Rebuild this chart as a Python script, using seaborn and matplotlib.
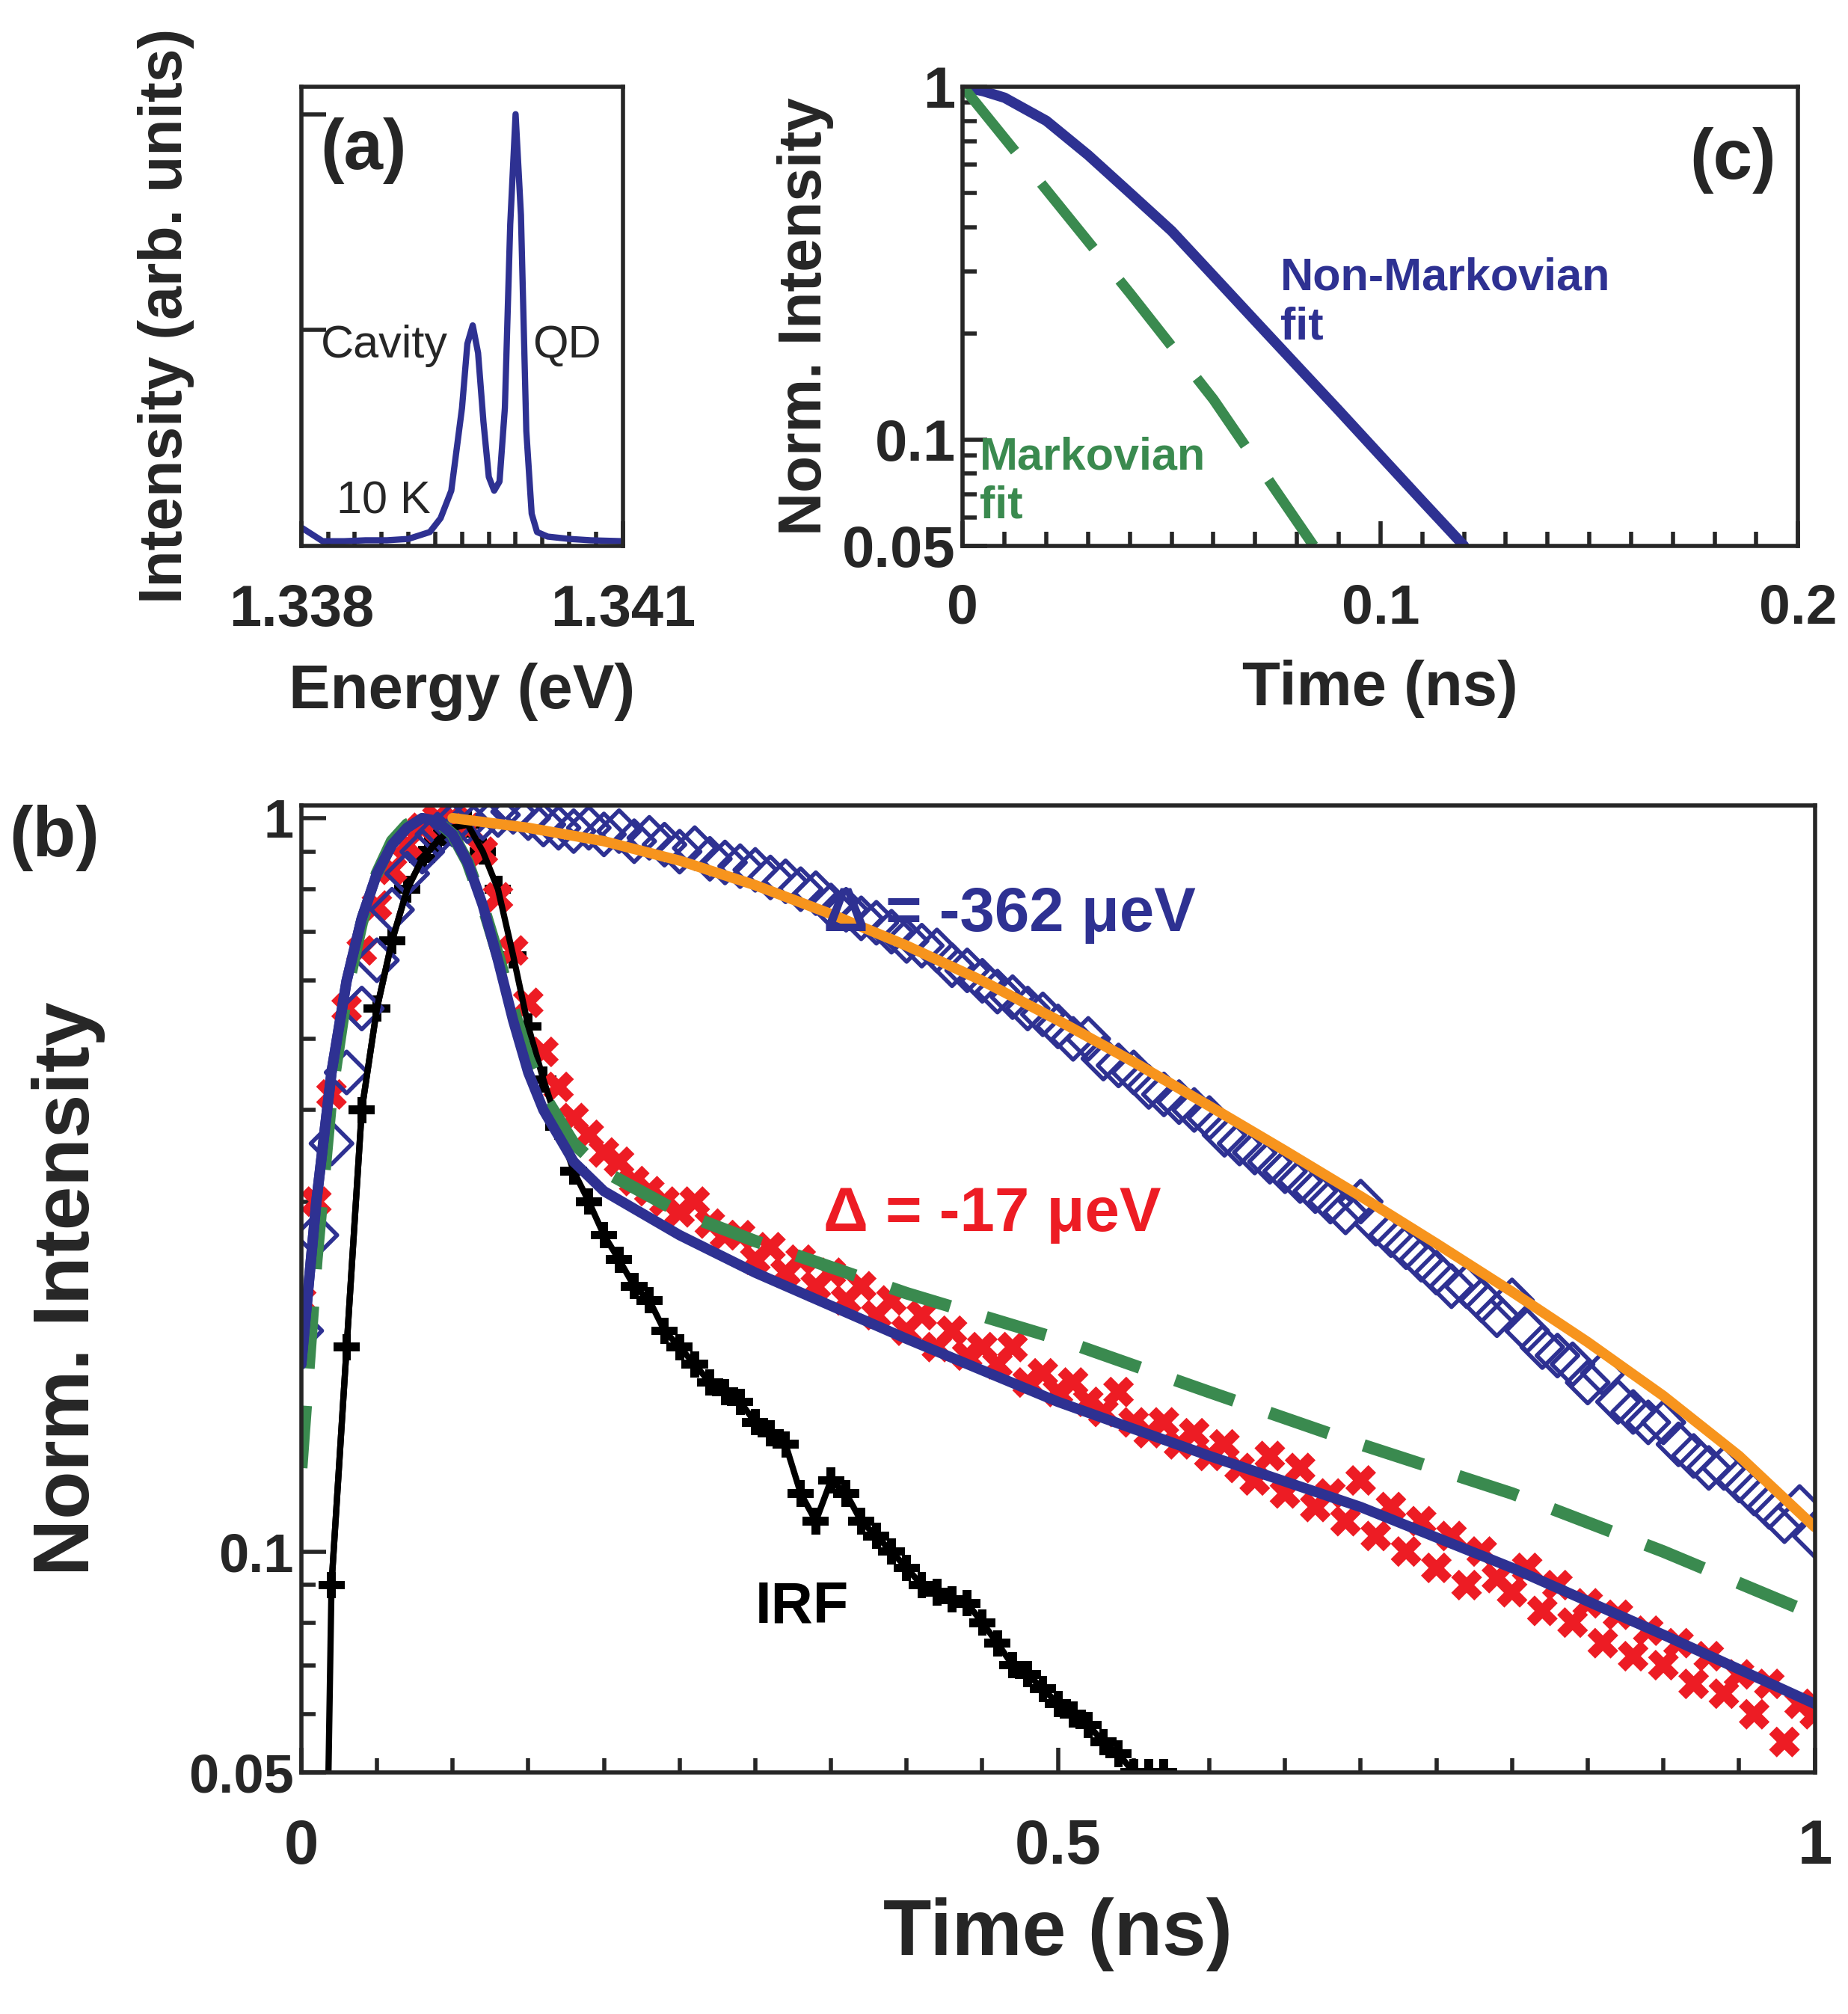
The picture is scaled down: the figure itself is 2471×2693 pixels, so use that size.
import numpy as np
import pandas as pd
import matplotlib
matplotlib.use("Agg")
import matplotlib.pyplot as plt
import seaborn as sns
from matplotlib.ticker import FixedLocator, NullFormatter, MultipleLocator

sns.set_style("ticks")
plt.rcParams['font.family'] = ['Liberation Sans', 'DejaVu Sans']
plt.rcParams['font.weight'] = 'bold'

# ---------- panel (a) spectrum ----------
energy_a = [1.3380, 1.3382, 1.3384, 1.3386, 1.3388, 1.3390, 1.3392, 1.3393, 1.3394, 1.3395, 1.33955,
            1.3396, 1.33965, 1.3397, 1.33975, 1.3398, 1.33985, 1.3399, 1.33995, 1.3400, 1.34005,
            1.3401, 1.34015, 1.3402, 1.3403, 1.3405, 1.3407, 1.3410]
inten_a = [0.04, 0.01, 0.01, 0.012, 0.012, 0.015, 0.03, 0.06, 0.12, 0.30, 0.44, 0.48, 0.42,
           0.27, 0.15, 0.12, 0.14, 0.30, 0.70, 0.94, 0.72, 0.25, 0.07, 0.03, 0.02, 0.015, 0.012, 0.01]

# ---------- panel (c) ----------
t_c = [0.0, 0.005, 0.01, 0.02, 0.03, 0.04, 0.05, 0.06, 0.07, 0.08, 0.09, 0.10, 0.11, 0.12]
nonmark_c = [1.0, 0.97, 0.93, 0.8, 0.64, 0.5, 0.39, 0.291, 0.217, 0.162, 0.121, 0.090, 0.067, 0.05]
t_cm = [0.0, 0.02, 0.04, 0.06, 0.084]
mark_c = [1.0, 0.51, 0.26, 0.13, 0.05]

# ---------- panel (b) ----------
t_d362 = np.round(np.arange(0, 1.001, 0.01), 3)
d362 = [0.20, 0.27, 0.36, 0.45, 0.55, 0.64, 0.75, 0.84, 0.90, 0.95, 0.98, 0.99, 1.00, 1.01, 1.02, 1.00,
        0.98, 0.97, 0.96, 0.97, 0.95, 0.96, 0.93, 0.94, 0.92, 0.90, 0.91, 0.88, 0.87, 0.86, 0.85,
        0.83, 0.82, 0.80, 0.79, 0.76, 0.75, 0.73, 0.72, 0.70, 0.68, 0.67, 0.66, 0.63, 0.62, 0.60,
        0.58, 0.57, 0.55, 0.54, 0.52, 0.50, 0.50, 0.47, 0.46, 0.45, 0.43, 0.42, 0.41, 0.40, 0.39,
        0.37, 0.36, 0.35, 0.34, 0.33, 0.32, 0.31, 0.30, 0.29, 0.30, 0.28, 0.27, 0.26, 0.25, 0.24,
        0.23, 0.23, 0.22, 0.21, 0.22, 0.20, 0.19, 0.185, 0.18, 0.17, 0.175, 0.16, 0.155, 0.15, 0.15,
        0.14, 0.135, 0.13, 0.13, 0.125, 0.12, 0.115, 0.11, 0.115, 0.105]
t_d17 = t_d362
d17 = [0.22, 0.30, 0.42, 0.55, 0.66, 0.76, 0.85, 0.92, 0.97, 1.00, 1.00, 0.97, 0.90, 0.78, 0.66, 0.56,
       0.48, 0.43, 0.39, 0.37, 0.35, 0.34, 0.32, 0.31, 0.30, 0.29, 0.30, 0.28, 0.27, 0.27, 0.25,
       0.26, 0.24, 0.25, 0.23, 0.24, 0.22, 0.23, 0.21, 0.22, 0.20, 0.21, 0.19, 0.20, 0.185, 0.19,
       0.18, 0.19, 0.17, 0.175, 0.165, 0.17, 0.16, 0.155, 0.165, 0.15, 0.145, 0.15, 0.14, 0.145,
       0.135, 0.14, 0.13, 0.125, 0.135, 0.12, 0.13, 0.115, 0.12, 0.11, 0.125, 0.105, 0.115, 0.10,
       0.11, 0.095, 0.105, 0.09, 0.10, 0.092, 0.088, 0.095, 0.083, 0.09, 0.08, 0.085, 0.075, 0.082,
       0.072, 0.078, 0.07, 0.075, 0.066, 0.072, 0.064, 0.068, 0.06, 0.066, 0.055, 0.062, 0.06]
t_irf = np.round(np.arange(0.02, 0.575, 0.01), 3)
irf = [0.09, 0.19, 0.40, 0.55, 0.68, 0.80, 0.88, 0.93, 0.97, 0.98, 0.90, 0.80, 0.65, 0.52, 0.44,
       0.38, 0.33, 0.30, 0.27, 0.25, 0.23, 0.22, 0.20, 0.19, 0.18, 0.17, 0.165, 0.16, 0.15, 0.145,
       0.14, 0.12, 0.11, 0.125, 0.12, 0.11, 0.105, 0.10, 0.095, 0.09, 0.088, 0.086, 0.085, 0.08,
       0.075, 0.07, 0.068, 0.065, 0.062, 0.06, 0.058, 0.055, 0.053, 0.05, 0.05, 0.05]
t_irf_line = [0.018, 0.02, 0.03, 0.04, 0.05, 0.06, 0.07, 0.08, 0.09, 0.10, 0.11]
irf_line = [0.05, 0.09, 0.19, 0.40, 0.55, 0.68, 0.80, 0.88, 0.93, 0.97, 0.98]

t_fit = [0.0, 0.01, 0.02, 0.03, 0.04, 0.05, 0.06, 0.07, 0.08, 0.09, 0.10, 0.11, 0.12, 0.13, 0.14,
         0.15, 0.16, 0.18, 0.20, 0.25, 0.30, 0.40, 0.50, 0.60, 0.70, 0.80, 0.90, 1.0]
fit_nm17 = [0.18, 0.30, 0.45, 0.60, 0.73, 0.84, 0.92, 0.97, 1.00, 0.99, 0.95, 0.87, 0.76, 0.64,
            0.53, 0.45, 0.40, 0.34, 0.31, 0.27, 0.24, 0.195, 0.16, 0.135, 0.115, 0.095, 0.077, 0.062]
fit_m17 = [0.13, 0.25, 0.42, 0.58, 0.72, 0.84, 0.93, 0.98, 1.00, 0.99, 0.95, 0.87, 0.76, 0.65,
           0.55, 0.47, 0.42, 0.36, 0.33, 0.29, 0.265, 0.225, 0.195, 0.165, 0.14, 0.12, 0.10, 0.082]
t_or = [0.10, 0.15, 0.20, 0.25, 0.30, 0.35, 0.40, 0.45, 0.50, 0.55, 0.60, 0.65, 0.70, 0.75, 0.80,
        0.85, 0.90, 0.95, 1.0]
fit_362 = [1.0, 0.97, 0.93, 0.875, 0.81, 0.74, 0.67, 0.60, 0.53, 0.465, 0.405, 0.352, 0.305, 0.263,
           0.226, 0.193, 0.163, 0.135, 0.108]

BLUE = '#2e3192'
RED = '#ed1c24'
GREEN = '#3a8a4f'
ORANGE = '#f7941d'

fig = plt.figure(figsize=(12.355, 13.465), dpi=200)
axa = fig.add_axes([0.163, 0.729, 0.174, 0.228])
axc = fig.add_axes([0.521, 0.729, 0.452, 0.228])
axb = fig.add_axes([0.163, 0.120, 0.819, 0.480])

for ax in (axa, axb, axc):
    for s in ax.spines.values():
        s.set_linewidth(2)
    ax.tick_params(which='both', direction='in', width=2, labelsize=28)
    ax.tick_params(which='major', length=12)
    ax.tick_params(which='minor', length=7)

# (a)
sns.lineplot(x=energy_a, y=inten_a, ax=axa, color=BLUE, lw=3)
axa.set_xlim(1.338, 1.341)
axa.set_ylim(0, 1.0)
axa.xaxis.set_major_locator(FixedLocator([1.338, 1.341]))
axa.xaxis.set_minor_locator(MultipleLocator(0.00025))
axa.set_xticklabels(['1.338', '1.341'])
axa.yaxis.set_major_locator(FixedLocator([0.47, 0.94]))
axa.set_yticklabels([])
axa.tick_params(axis='x', pad=18)
axa.set_xlabel('Energy (eV)', fontsize=30, fontweight='bold', labelpad=12)
axa.set_ylabel('Intensity (arb. units)', fontsize=29, fontweight='bold', labelpad=48)
axa.text(0.06, 0.82, '(a)', transform=axa.transAxes, fontsize=34, fontweight='bold')
axa.text(0.06, 0.41, 'Cavity', transform=axa.transAxes, fontsize=22, fontweight='normal')
axa.text(0.72, 0.41, 'QD', transform=axa.transAxes, fontsize=22, fontweight='normal')
axa.text(0.11, 0.07, '10 K', transform=axa.transAxes, fontsize=22, fontweight='normal')

# (c)
sns.lineplot(x=t_c, y=nonmark_c, ax=axc, color=BLUE, lw=5)
sns.lineplot(x=t_cm, y=mark_c, ax=axc, color=GREEN, lw=5)
axc.lines[-1].set_dashes([8, 4])
axc.set_yscale('log')
axc.set_xlim(0, 0.2)
axc.set_ylim(0.05, 1)
axc.yaxis.set_major_locator(FixedLocator([0.05, 0.1, 1]))
axc.set_yticklabels(['0.05', '0.1', '1'])
axc.yaxis.set_minor_formatter(NullFormatter())
axc.xaxis.set_major_locator(FixedLocator([0, 0.1, 0.2]))
axc.set_xticklabels(['0', '0.1', '0.2'])
axc.xaxis.set_minor_locator(MultipleLocator(0.01))
axc.tick_params(axis='x', pad=18, labelsize=27)
axc.set_xlabel('Time (ns)', fontsize=30, fontweight='bold', labelpad=12)
axc.set_ylabel('Norm. Intensity', fontsize=29, fontweight='bold')
axc.text(0.87, 0.80, '(c)', transform=axc.transAxes, fontsize=34, fontweight='bold')
axc.text(0.38, 0.45, 'Non-Markovian\nfit', transform=axc.transAxes, fontsize=22, color=BLUE,
         fontweight='bold', linespacing=1.2)
axc.text(0.02, 0.06, 'Markovian\nfit', transform=axc.transAxes, fontsize=22, color=GREEN,
         fontweight='bold', linespacing=1.2)

# (b)
df362 = pd.DataFrame({'t': t_d362, 'I': d362})
df17 = pd.DataFrame({'t': t_d17, 'I': d17})
dfirf = pd.DataFrame({'t': t_irf, 'I': irf})
sns.lineplot(data=dfirf, x='t', y='I', ax=axb, color='black', lw=3)
sns.lineplot(x=t_irf_line, y=irf_line, ax=axb, color='black', lw=3)
sns.scatterplot(data=dfirf, x='t', y='I', ax=axb, marker='P', color='black', s=160, edgecolor='none')
sns.scatterplot(data=df17, x='t', y='I', ax=axb, marker='X', color=RED, s=220, edgecolor='none')
sns.scatterplot(data=df362, x='t', y='I', ax=axb, marker='D', facecolor='none', edgecolor=BLUE,
                s=200, linewidth=2)
sns.lineplot(x=t_fit, y=fit_m17, ax=axb, color=GREEN, lw=6)
axb.lines[-1].set_dashes([5, 3])
sns.lineplot(x=t_fit, y=fit_nm17, ax=axb, color=BLUE, lw=5)
sns.lineplot(x=t_or, y=fit_362, ax=axb, color=ORANGE, lw=5)
sns.lineplot(x=t_fit[:12], y=fit_nm17[:12], ax=axb, color=BLUE, lw=5)
axb.set_yscale('log')
axb.set_xlim(0, 1)
axb.set_ylim(0.05, 1.04)
axb.yaxis.set_major_locator(FixedLocator([0.05, 0.1, 1]))
axb.set_yticklabels(['0.05', '0.1', '1'])
axb.yaxis.set_minor_formatter(NullFormatter())
axb.xaxis.set_major_locator(FixedLocator([0, 0.5, 1]))
axb.set_xticklabels(['0', '0.5', '1'])
axb.xaxis.set_minor_locator(MultipleLocator(0.05))
axb.tick_params(axis='y', labelsize=26)
axb.tick_params(axis='x', labelsize=30, pad=22)
axb.set_xlabel('Time (ns)', fontsize=38, fontweight='bold', labelpad=10)
axb.set_ylabel('Norm. Intensity', fontsize=38, fontweight='bold', labelpad=40)
fig.text(0.005, 0.575, '(b)', fontsize=34, fontweight='bold')
axb.text(0.345, 0.87, 'Δ = -362 μeV', transform=axb.transAxes, fontsize=30, color=BLUE, fontweight='bold')
axb.text(0.345, 0.56, 'Δ = -17 μeV', transform=axb.transAxes, fontsize=30, color=RED, fontweight='bold')
axb.text(0.30, 0.155, 'IRF', transform=axb.transAxes, fontsize=28, color='black', fontweight='bold')

fig.savefig('out.png', dpi=200)
